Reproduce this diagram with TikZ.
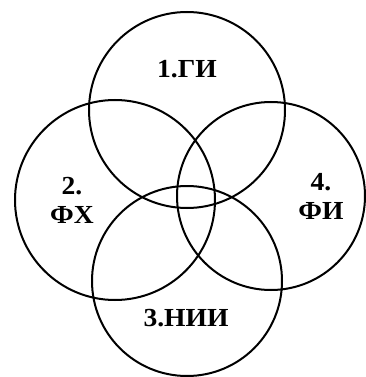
\documentclass[tikz,border=0pt]{standalone}
\usepackage{fontspec}
\setmainfont{Liberation Serif}
\usepackage{tikz}

\begin{document}
\begin{tikzpicture}[x=1pt,y=-1pt,
  ring/.style={draw=black,line width=2pt},
  lbl/.style={font=\bfseries\fontsize{26}{29}\selectfont,align=center,xscale=1.06,inner sep=0pt}]
\useasboundingbox (0,0) rectangle (366,377);
\draw[ring] (187,110) circle (98);
\draw[ring] (115,200) circle (100);
\draw[ring] (271,196) circle (94);
\draw[ring] (187,281) circle (95);
\node[lbl] (gi) at (187,69) {1.ГИ};
\node[lbl] (fx) at (72,200) {2.\\ФХ};
\node[lbl] (nii) at (186,318) {3.НИИ};
\node[lbl] (fi) at (321,196) {4.\\ФИ};
\end{tikzpicture}
\end{document}
